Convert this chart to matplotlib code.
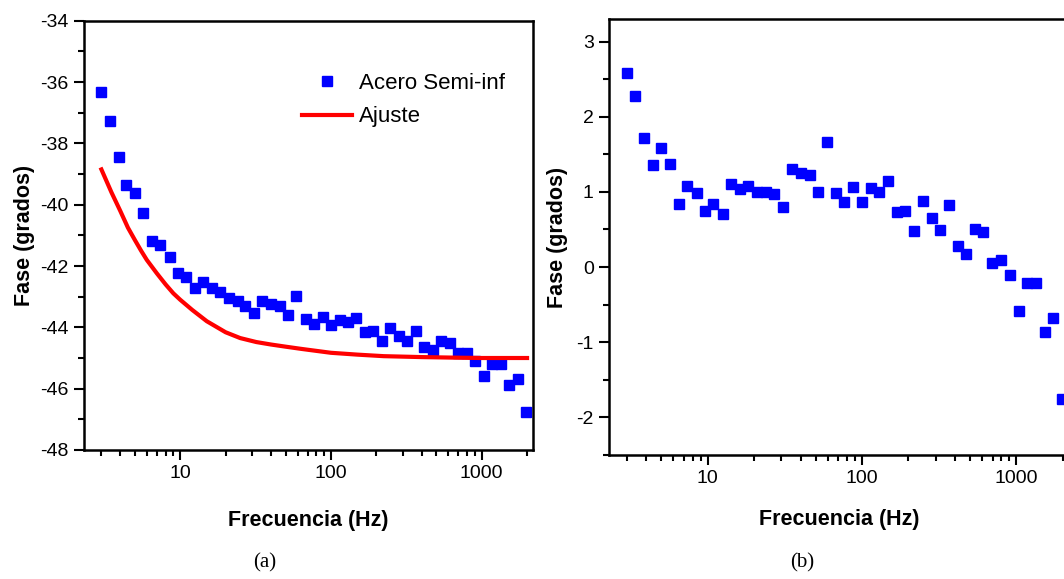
import matplotlib
matplotlib.use("Agg")
import matplotlib.pyplot as plt
from matplotlib.ticker import LogLocator, FixedLocator, MultipleLocator, NullFormatter

# ── Data ──────────────────────────────────────────────────────────────────────
FREQ = [3.0, 3.4, 3.9, 4.4, 5.0, 5.7, 6.5, 7.4, 8.5, 9.6,
        10.9, 12.5, 14.2, 16.2, 18.4, 21, 24, 27, 31, 35,
        40, 46, 52, 59, 68, 77, 88, 100, 114, 129,
        147, 169, 191, 217, 248, 283, 321, 366, 417, 473,
        540, 612, 698, 798, 905, 1033, 1172, 1336, 1524, 1730, 1980]

PHASE_A = [-36.32, -37.28, -38.45, -39.35, -39.62, -40.28, -41.20, -41.32, -41.72, -42.23,
           -42.37, -42.71, -42.53, -42.71, -42.85, -43.04, -43.15, -43.29, -43.54, -43.13,
           -43.24, -43.32, -43.60, -42.99, -43.73, -43.89, -43.67, -43.91, -43.76, -43.84,
           -43.69, -44.14, -44.13, -44.44, -44.03, -44.27, -44.44, -44.11, -44.63, -44.74,
           -44.44, -44.50, -44.85, -44.85, -45.09, -45.58, -45.20, -45.20, -45.88, -45.69, -46.76]

FIT_FREQ  = [3.0, 3.5, 4.0, 4.5, 5.0, 5.5, 6.0, 7.0, 8.0, 9.0, 10, 12, 15, 20, 25,
             32, 40, 50, 63, 70, 100, 150, 224, 400, 700, 1000, 2000]
FIT_PHASE = [-38.85, -39.6, -40.2, -40.75, -41.15, -41.5, -41.8, -42.24, -42.6, -42.89,
             -43.1, -43.43, -43.8, -44.16, -44.35, -44.48, -44.56, -44.63, -44.70,
             -44.73, -44.83, -44.89, -44.94, -44.97, -44.99, -45.0, -45.0]

PHASE_B = [2.58, 2.28, 1.72, 1.36, 1.59, 1.37, 0.84, 1.08, 0.98, 0.75,
           0.84, 0.70, 1.11, 1.04, 1.08, 1.00, 1.00, 0.97, 0.80, 1.31,
           1.25, 1.23, 1.00, 1.67, 0.98, 0.86, 1.07, 0.86, 1.05, 1.00,
           1.14, 0.73, 0.75, 0.48, 0.88, 0.65, 0.49, 0.82, 0.28, 0.17,
           0.51, 0.46, 0.06, 0.09, -0.10, -0.59, -0.21, -0.21, -0.87, -0.68, -1.76]

XTICKS       = [10, 100, 1000]
XTICK_LABELS = ["10", "100", "1000"]
YTICKS_A     = [-34, -36, -38, -40, -42, -44, -46, -48]
YTICKS_B     = [3, 2, 1, 0, -1, -2]

# ── Style ─────────────────────────────────────────────────────────────────────
plt.rcParams["font.family"] = ["Liberation Sans", "DejaVu Sans"]
plt.rcParams["axes.unicode_minus"] = False
BLUE = "#0000FF"
RED  = "#FF0000"
XLIM = (2.3, 2190)

fig = plt.figure(figsize=(10.64, 5.79), dpi=100)
ax1 = fig.add_axes([84 / 1064, 1 - 450 / 579, 449 / 1064, 429.3 / 579])
ax2 = fig.add_axes([609 / 1064, 1 - 455 / 579, 460 / 1064, 436 / 579])


def style_axis(ax, xpad, ypad):
    ax.set_xscale("log")
    ax.set_xlim(*XLIM)
    ax.xaxis.set_major_locator(FixedLocator(XTICKS))
    ax.set_xticklabels(XTICK_LABELS)
    ax.xaxis.set_minor_locator(LogLocator(base=10, subs=range(2, 10), numticks=20))
    ax.xaxis.set_minor_formatter(NullFormatter())
    ax.tick_params(which="major", direction="out", length=7, width=1.5,
                   labelsize=14, pad=4)
    ax.tick_params(which="minor", direction="out", length=4, width=1.5)
    ax.tick_params(top=False, right=False, which="both")
    for sp in ax.spines.values():
        sp.set_linewidth(1.8)
    ax.set_xlabel("Frecuencia (Hz)", fontsize=15.5, fontweight="bold", labelpad=xpad)
    ax.set_ylabel("Fase (grados)", fontsize=15.5, fontweight="bold", labelpad=ypad)


# ── (a) ───────────────────────────────────────────────────────────────────────
ax1.plot(FREQ, PHASE_A, "s", color=BLUE, markersize=7, label="Acero Semi-inf")
ax1.plot(FIT_FREQ, FIT_PHASE, color=RED, linewidth=3, label="Ajuste")
style_axis(ax1, 20, 4)
ax1.set_ylim(-48, -34)
ax1.set_yticks(YTICKS_A)
ax1.yaxis.set_minor_locator(MultipleLocator(1))
ax1.legend(loc="upper left", bbox_to_anchor=((302 - 84) / 449, 0.878),
           frameon=False, fontsize=16, numpoints=1, handlelength=2.25,
           handletextpad=0.3, labelspacing=0.55, borderpad=0, borderaxespad=0)

# ── (b) ───────────────────────────────────────────────────────────────────────
ax2.plot(FREQ, PHASE_B, "s", color=BLUE, markersize=7)
style_axis(ax2, 16, 6)
ax2.set_ylim(-2.5, 3.3)
ax2.set_yticks(YTICKS_B)
ax2.yaxis.set_minor_locator(MultipleLocator(0.5))

fig.text(265 / 1064, 1 - 563 / 579, "(a)", fontsize=15, ha="center", va="center",
         family=["Liberation Serif", "DejaVu Serif"])
fig.text(802 / 1064, 1 - 563 / 579, "(b)", fontsize=15, ha="center", va="center",
         family=["Liberation Serif", "DejaVu Serif"])

fig.savefig("out.png", dpi=100)
